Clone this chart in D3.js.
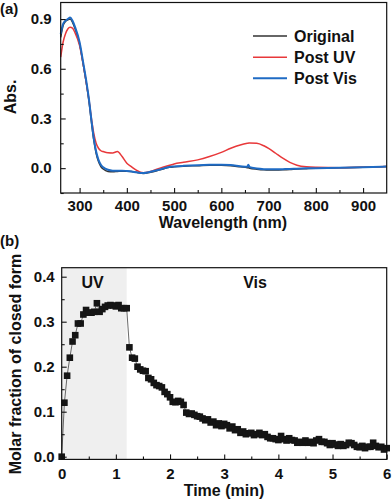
<!DOCTYPE html>
<html><head><meta charset="utf-8">
<script src="https://cdn.jsdelivr.net/npm/d3@7"></script>
<style>
html,body{margin:0;padding:0;background:#fff;}
svg text{font-family:Arial,"Liberation Sans",sans-serif;font-weight:bold;fill:#111;}
</style></head><body>
<svg id="c" width="392" height="500"></svg>
<script>
// ---------- Panel (a) data ----------
const wavelengths = [260,265,270,275,280,285,290,300,308,315,320,325,330,335,340,345,350,360,370,380,390,400,410,420,435,450,470,490,500,520,550,575,600,620,640,655,657,660,675,690,700,715,730,745,760,780,800,850,900,950];
const absOriginal = [0.79,0.86,0.885,0.895,0.90,0.88,0.845,0.75,0.62,0.50,0.40,0.28,0.17,0.09,0.04,0.01,-0.005,-0.02,-0.022,-0.02,-0.018,-0.018,-0.02,-0.025,-0.032,-0.025,-0.01,0.005,0.008,0.012,0.015,0.018,0.018,0.015,0.008,0.003,0.002,0.0,-0.006,-0.01,-0.011,-0.011,-0.01,-0.008,-0.005,-0.003,-0.001,0.002,0.005,0.01];
const absPostUV = [0.67,0.76,0.81,0.84,0.85,0.845,0.82,0.74,0.62,0.50,0.41,0.30,0.21,0.15,0.12,0.105,0.10,0.093,0.092,0.10,0.07,0.03,0.008,-0.012,-0.028,-0.02,0.0,0.017,0.025,0.035,0.05,0.07,0.095,0.12,0.14,0.15,0.151,0.152,0.15,0.135,0.12,0.09,0.06,0.035,0.018,0.008,0.005,0.003,0.005,0.01];
const absPostVis = [0.81,0.87,0.89,0.90,0.91,0.89,0.855,0.76,0.63,0.51,0.41,0.29,0.18,0.10,0.05,0.02,0.005,-0.01,-0.015,-0.015,-0.015,-0.017,-0.02,-0.025,-0.03,-0.022,-0.008,0.007,0.01,0.014,0.018,0.02,0.021,0.019,0.012,0.008,0.02,0.006,-0.002,-0.006,-0.007,-0.007,-0.006,-0.005,-0.003,-0.001,0.0,0.002,0.005,0.01];
const seriesNames = ["Original","Post UV","Post Vis"];
const seriesColors = ["#333333","#e8383a","#1f6bc4"];
const xTicksA = [300,400,500,600,700,800,900];
const yTicksA = [0.0,0.3,0.6,0.9];

// ---------- Panel (b) data ----------
const times = [0,0.05,0.1,0.15,0.2,0.25,0.3,0.35,0.4,0.45,0.5,0.55,0.6,0.65,0.7,0.75,0.8,0.85,0.9,0.95,1.0,1.05,1.1,1.15,1.2,
1.25,1.3,1.35,1.4,1.45,1.5,1.55,1.6,1.65,1.7,1.75,1.8,1.85,1.9,1.95,2.0,2.05,2.1,2.15,2.2,2.25,2.3,2.35,2.4,2.45,2.5,2.55,2.6,2.65,2.7,2.75,2.8,2.85,2.9,2.95,3.0,3.05,3.1,3.15,3.2,3.25,3.3,3.35,3.4,3.45,3.5,3.55,3.6,3.65,3.7,3.75,3.8,3.85,3.9,3.95,4.0,4.05,4.1,4.15,4.2,4.25,4.3,4.35,4.4,4.45,4.5,4.55,4.6,4.65,4.7,4.75,4.8,4.85,4.9,4.95,5.0,5.05,5.1,5.15,5.2,5.25,5.3,5.35,5.4,5.45,5.5,5.55,5.6,5.65,5.7,5.75,5.8,5.85,5.9,5.95,6.0];
const molarFraction = [0,0.12,0.18,0.22,0.256,0.27,0.296,0.296,0.316,0.326,0.32,0.32,0.322,0.341,0.322,0.328,0.333,0.336,0.337,0.336,0.334,0.337,0.33,0.33,0.33,
0.243,0.22,0.218,0.20,0.194,0.191,0.19,0.175,0.172,0.164,0.159,0.157,0.154,0.144,0.139,0.132,0.122,0.121,0.124,0.122,0.115,0.098,0.095,0.096,0.093,0.09,0.089,0.085,0.081,0.083,0.076,0.078,0.07,0.074,0.068,0.073,0.07,0.063,0.067,0.059,0.061,0.053,0.056,0.05,0.052,0.053,0.048,0.05,0.053,0.048,0.05,0.044,0.041,0.041,0.039,0.037,0.046,0.039,0.036,0.041,0.037,0.036,0.031,0.033,0.031,0.036,0.031,0.033,0.03,0.036,0.039,0.033,0.033,0.03,0.026,0.03,0.027,0.024,0.028,0.024,0.026,0.031,0.03,0.026,0.022,0.021,0.024,0.019,0.022,0.022,0.031,0.024,0.021,0.022,0.016,0.019];
const uvEnd = 1.2;
const xTicksB = [0,1,2,3,4,5,6];
const yTicksB = [0.0,0.1,0.2,0.3,0.4];

const svg = d3.select("#c");

// ================= Panel (a) =================
const xA = d3.scaleLinear().domain([260,950]).range([60.7,386.7]);
const yA = d3.scaleLinear().domain([-0.15,1.0]).range([193,2.5]);
const gA = svg.append("g");

const lineA = (vals) => d3.line().curve(d3.curveMonotoneX)
  .x((d,i)=>xA(wavelengths[i])).y(d=>yA(d))(vals);
const seriesA = [absOriginal, absPostUV, absPostVis];
const widths = [1.5,1.5,2.0];
seriesA.forEach((vals,k)=>{
  gA.append("path").attr("d",lineA(vals)).attr("fill","none")
    .attr("stroke",seriesColors[k]).attr("stroke-width",widths[k]);
});

// axes (a)
const axA_bottom = d3.axisBottom(xA).tickValues(xTicksA).tickSize(-5).tickPadding(7).tickFormat(d3.format("d"));
const axA_bottomMinor = d3.axisBottom(xA).tickValues(d3.range(350,950,100)).tickSize(-3).tickFormat("");
const axA_left = d3.axisLeft(yA).tickValues(yTicksA).tickSize(-5).tickPadding(9).tickFormat(d3.format(".1f"));
const axA_leftMinor = d3.axisLeft(yA).tickValues([-0.15,0.15,0.45,0.75]).tickSize(-3).tickFormat("");

function styleAxis(g, fs){
  g.select(".domain").remove();
  g.selectAll("line").attr("stroke","#111").attr("stroke-width",1.1);
  g.selectAll("text").attr("font-size",fs).attr("fill","#111")
   .attr("font-family",'Arial,"Liberation Sans",sans-serif').attr("font-weight","bold");
}
gA.append("g").attr("transform","translate(0,193)").call(axA_bottom).call(g=>styleAxis(g,15));
gA.append("g").attr("transform","translate(0,193)").call(axA_bottomMinor).call(g=>styleAxis(g,15));
gA.append("g").attr("transform","translate(60.7,0)").call(axA_left).call(g=>styleAxis(g,15));
gA.append("g").attr("transform","translate(60.7,0)").call(axA_leftMinor).call(g=>styleAxis(g,15));
gA.append("rect").attr("x",60.7).attr("y",2.5).attr("width",386.7-60.7).attr("height",193-2.5)
  .attr("fill","none").attr("stroke","#111").attr("stroke-width",1.2);

// legend
seriesNames.forEach((n,k)=>{
  const y = [36,57.3,78.3][k];
  gA.append("line").attr("x1",253).attr("x2",287).attr("y1",y).attr("y2",y)
    .attr("stroke",seriesColors[k]).attr("stroke-width",widths[k]);
  gA.append("text").attr("x",294).attr("y",y+5.8).attr("font-size",16).text(n);
});
gA.append("text").attr("x",223).attr("y",228).attr("text-anchor","middle").attr("font-size",16).text("Wavelength (nm)");
gA.append("text").attr("transform","translate(16,97) rotate(-90)").attr("text-anchor","middle").attr("font-size",16).text("Abs.");
svg.append("text").attr("x",0).attr("y",14).attr("font-size",15).text("(a)");
svg.append("text").attr("x",0).attr("y",246).attr("font-size",15).text("(b)");

// ================= Panel (b) =================
const xB = d3.scaleLinear().domain([0,6]).range([61.7,386.7]);
const yB = d3.scaleLinear().domain([-0.006,0.42]).range([459.4,267.7]);
const gB = svg.append("g");

gB.append("rect").attr("x",xB(0)).attr("y",yB(0.42)).attr("width",xB(uvEnd)-xB(0))
  .attr("height",yB(-0.006)-yB(0.42)).attr("fill","#efefef");

const pts = times.map((t,i)=>[t,molarFraction[i]]);
gB.append("path").attr("d",d3.line().x(d=>xB(d[0])).y(d=>yB(d[1]))(pts))
  .attr("fill","none").attr("stroke","#444").attr("stroke-width",0.8);
gB.selectAll("rect.pt").data(pts).join("rect").attr("class","pt")
  .attr("x",d=>xB(d[0])-3.3).attr("y",d=>yB(d[1])-3.3).attr("width",6.6).attr("height",6.6)
  .attr("fill","#151515");

const axB_bottom = d3.axisBottom(xB).tickValues(xTicksB).tickSize(-5).tickPadding(8.5).tickFormat(d3.format("d"));
const axB_bottomMinor = d3.axisBottom(xB).tickValues([0.5,1.5,2.5,3.5,4.5,5.5]).tickSize(-3).tickFormat("");
const axB_left = d3.axisLeft(yB).tickValues(yTicksB).tickSize(-5).tickPadding(7).tickFormat(d3.format(".1f"));
const axB_leftMinor = d3.axisLeft(yB).tickValues([0.05,0.15,0.25,0.35]).tickSize(-3).tickFormat("");
gB.append("g").attr("transform","translate(0,459.4)").call(axB_bottom).call(g=>styleAxis(g,15));
gB.append("g").attr("transform","translate(0,459.4)").call(axB_bottomMinor).call(g=>styleAxis(g,15));
gB.append("g").attr("transform","translate(61.7,0)").call(axB_left).call(g=>styleAxis(g,15));
gB.append("g").attr("transform","translate(61.7,0)").call(axB_leftMinor).call(g=>styleAxis(g,15));
gB.append("rect").attr("x",61.7).attr("y",267.7).attr("width",386.7-61.7).attr("height",459.4-267.7)
  .attr("fill","none").attr("stroke","#111").attr("stroke-width",1.2);

gB.append("text").attr("x",xB(0.57)).attr("y",288).attr("text-anchor","middle").attr("font-size",16).text("UV");
gB.append("text").attr("x",xB(3.57)).attr("y",288).attr("text-anchor","middle").attr("font-size",16).text("Vis");
gB.append("text").attr("x",224).attr("y",496).attr("text-anchor","middle").attr("font-size",16).text("Time (min)");
gB.append("text").attr("transform","translate(21,364) rotate(-90)").attr("text-anchor","middle").attr("font-size",16).text("Molar fraction of closed form");
</script></body></html>
